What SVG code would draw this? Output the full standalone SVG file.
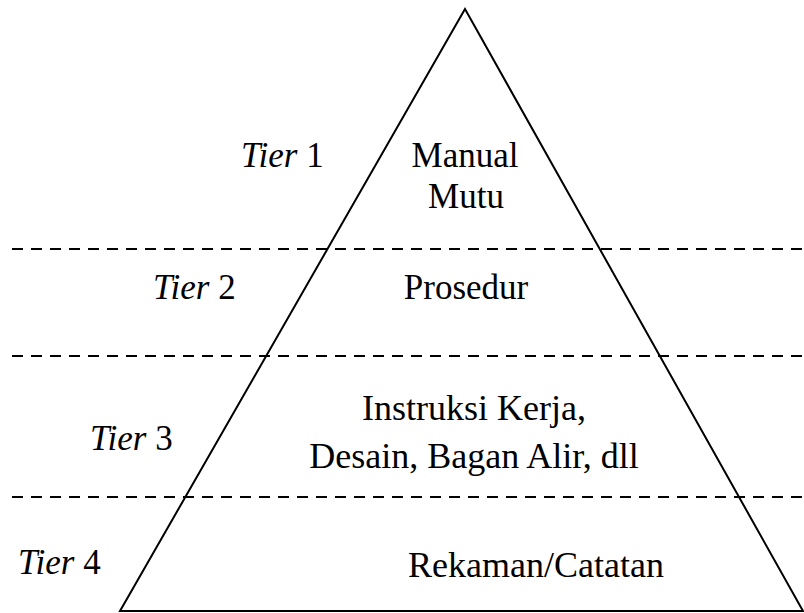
<svg xmlns="http://www.w3.org/2000/svg" width="804" height="613" viewBox="0 0 804 613">
<style>
.t{font-family:"Liberation Serif","Times New Roman",serif;font-size:35px;fill:#000}
.b{font-size:36px}
.c{text-anchor:middle}
.i{font-style:italic}
.d{stroke:#000;stroke-width:2;stroke-dasharray:11 8;fill:none}
</style>
<rect width="804" height="613" fill="#fff"/>
<g id="dividers">
<line class="d" x1="12" y1="249" x2="804" y2="249"/>
<line class="d" x1="12" y1="356" x2="804" y2="356"/>
<line class="d" x1="12" y1="497" x2="804" y2="497"/>
</g>
<g id="pyramid">
<polygon points="465,9 120,611 803,611" fill="none" stroke="#000" stroke-width="2"/>
</g>
<g id="tier1">
<text class="t" x="241" y="167"><tspan class="i">Tier</tspan> 1</text>
<text class="t c" x="465" y="167">Manual</text>
<text class="t c" x="466" y="208">Mutu</text>
</g>
<g id="tier2">
<text class="t" x="153" y="299"><tspan class="i">Tier</tspan> 2</text>
<text class="t c" x="466" y="299">Prosedur</text>
</g>
<g id="tier3">
<text class="t" x="90" y="450"><tspan class="i">Tier</tspan> 3</text>
<text class="t b c" x="474" y="420">Instruksi Kerja,</text>
<text class="t b c" x="474" y="468">Desain, Bagan Alir, dll</text>
</g>
<g id="tier4">
<text class="t" x="18" y="574"><tspan class="i">Tier</tspan> 4</text>
<text class="t b c" x="536" y="577">Rekaman/Catatan</text>
</g>
</svg>
